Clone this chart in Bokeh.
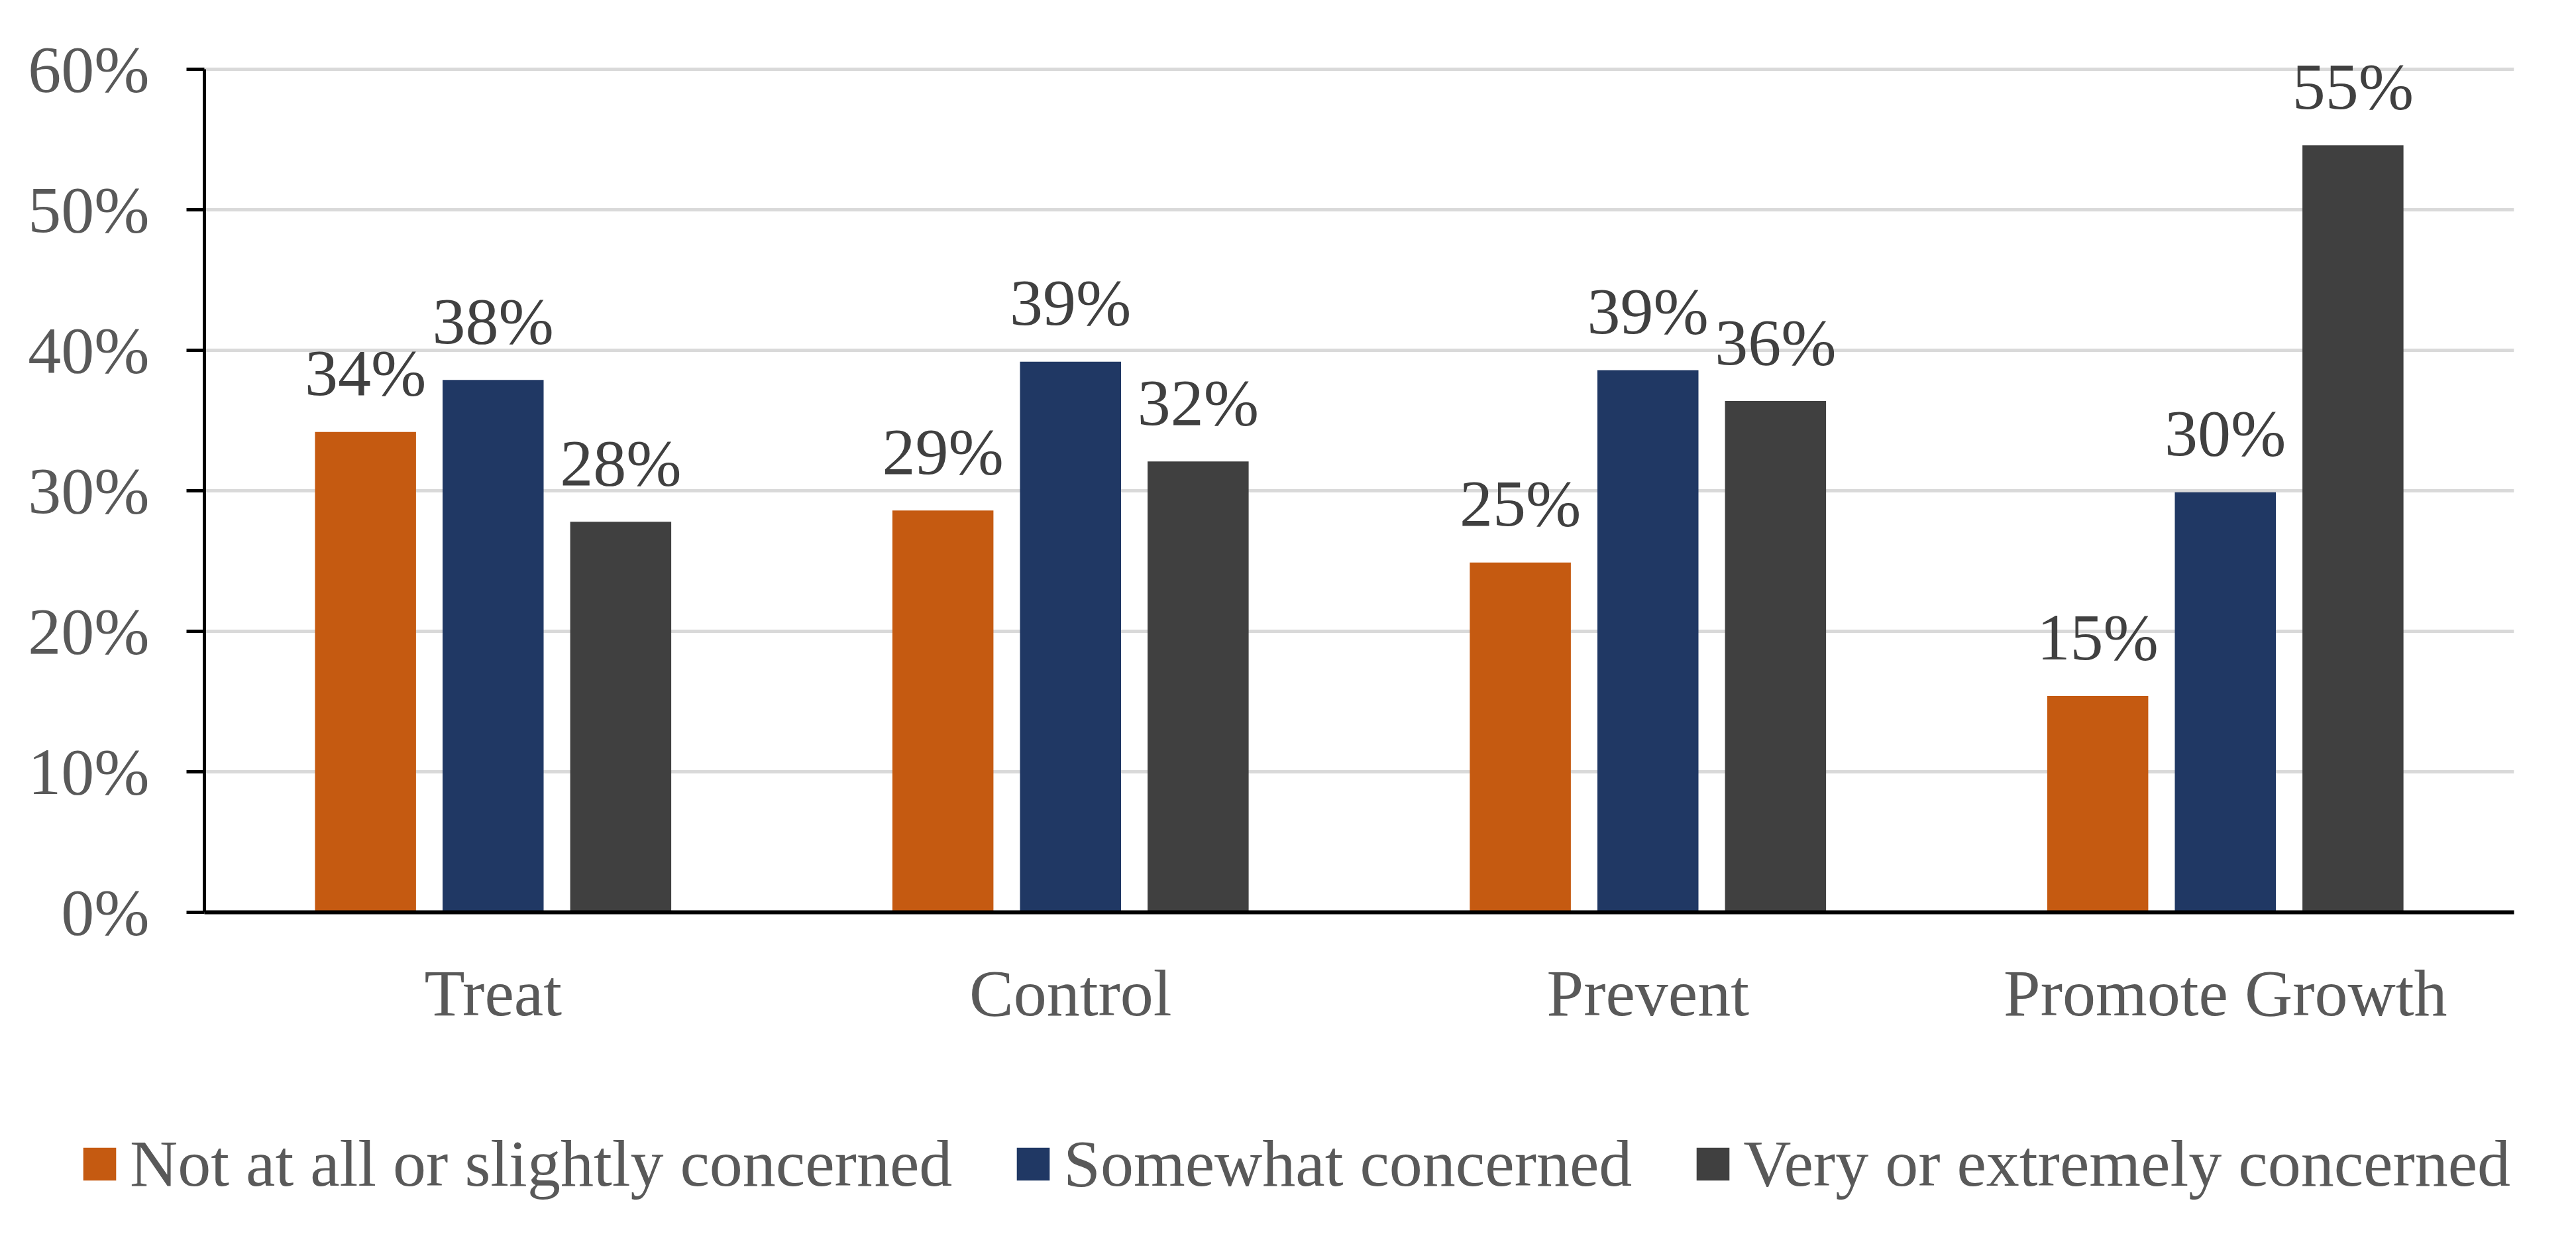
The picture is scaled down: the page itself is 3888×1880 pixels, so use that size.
from bokeh.plotting import figure
from bokeh.layouts import column
from bokeh.models import (FactorRange, Range1d, ColumnDataSource, NumeralTickFormatter,
                          FixedTicker, Legend, LegendItem)
from bokeh.transform import dodge
from bokeh.core.properties import value
from bokeh.embed import file_html
from bokeh.resources import INLINE

categories = ["Treat", "Control", "Prevent", "Promote Growth"]
series_names = ["Not at all or slightly concerned", "Somewhat concerned", "Very or extremely concerned"]
not_at_all = [0.342, 0.286, 0.249, 0.154]
somewhat = [0.379, 0.392, 0.386, 0.299]
very = [0.278, 0.321, 0.364, 0.546]
not_at_all_labels = ["34%", "29%", "25%", "15%"]
somewhat_labels = ["38%", "39%", "39%", "30%"]
very_labels = ["28%", "32%", "36%", "55%"]
y_ticks = [0.0, 0.1, 0.2, 0.3, 0.4, 0.5, 0.6]

colors = ["#C55A11", "#203864", "#404040"]
offsets = [-0.221, 0.0, 0.221]
FONT = "Liberation Serif"

MAIN_H = 1576
p = figure(x_range=FactorRange(*categories), y_range=Range1d(0, 0.62),
           width=3872, height=MAIN_H, output_backend="svg", toolbar_location=None,
           min_border_left=308, min_border_right=78, min_border_top=62, min_border_bottom=200)

for vals, labs, col, off in zip([not_at_all, somewhat, very],
                                [not_at_all_labels, somewhat_labels, very_labels],
                                colors, offsets):
    src = ColumnDataSource(dict(cat=categories, val=vals, lab=labs))
    p.vbar(x=dodge("cat", off, range=p.x_range), top="val", bottom=0, width=0.175,
           source=src, fill_color=col, line_color=None)
    p.text(x=dodge("cat", off, range=p.x_range), y="val", text="lab", source=src,
           text_align="center", text_baseline="alphabetic", y_offset=-89,
           text_font=value(FONT), text_font_size="100px", text_color="#404040")

# axes
p.yaxis.bounds = (0, 0.6)
p.yaxis.ticker = FixedTicker(ticks=y_ticks)
p.yaxis.formatter = NumeralTickFormatter(format="0%")
p.yaxis.major_tick_out = 27
p.yaxis.major_tick_in = 0
p.yaxis.major_tick_line_width = 5
p.yaxis.major_tick_line_color = "black"
p.yaxis.minor_tick_line_color = None
p.yaxis.axis_line_width = 5
p.yaxis.axis_line_color = "black"
p.yaxis.major_label_standoff = 56
p.yaxis.major_label_text_font = FONT
p.yaxis.major_label_text_font_size = "100px"
p.yaxis.major_label_text_color = "#595959"

p.xaxis.axis_line_width = 6
p.xaxis.axis_line_color = "black"
p.xaxis.major_tick_line_color = None
p.xaxis.minor_tick_line_color = None
p.xaxis.major_label_standoff = 60
p.xaxis.major_label_text_font = FONT
p.xaxis.major_label_text_font_size = "100px"
p.xaxis.major_label_text_color = "#595959"

p.xgrid.grid_line_color = None
p.ygrid.grid_line_color = "#D9D9D9"
p.ygrid.grid_line_width = 5
p.outline_line_color = None

# legend strip below the chart
LEG_H = 1864 - MAIN_H
lp = figure(width=3872, height=LEG_H, x_range=Range1d(0, 1), y_range=Range1d(0, 1),
            output_backend="svg", toolbar_location=None,
            min_border_left=0, min_border_right=0, min_border_top=0, min_border_bottom=0)
lp.axis.visible = False
lp.grid.visible = False
lp.outline_line_color = None
for fig in (p, lp):
    try:
        fig.frame_align = False
    except Exception:
        pass

# proxy renderers (placed outside the visible range) that carry the legend swatches
leg_renderers = [lp.vbar(x=[5.0], top=[0.5], width=0.1, fill_color=c, line_color=None) for c in colors]

legend = Legend(items=[LegendItem(label=n, renderers=[r]) for n, r in zip(series_names, leg_renderers)],
                orientation="horizontal", location=(119, 51),
                glyph_width=62, glyph_height=62, label_standoff=15, spacing=91,
                padding=0, margin=0, border_line_color=None, background_fill_alpha=0,
                label_text_font=FONT, label_text_font_size="100px", label_text_color="#595959")
lp.add_layout(legend, "center")

layout = column(p, lp, spacing=0)
open("out.html", "w").write(file_html(layout, INLINE))
